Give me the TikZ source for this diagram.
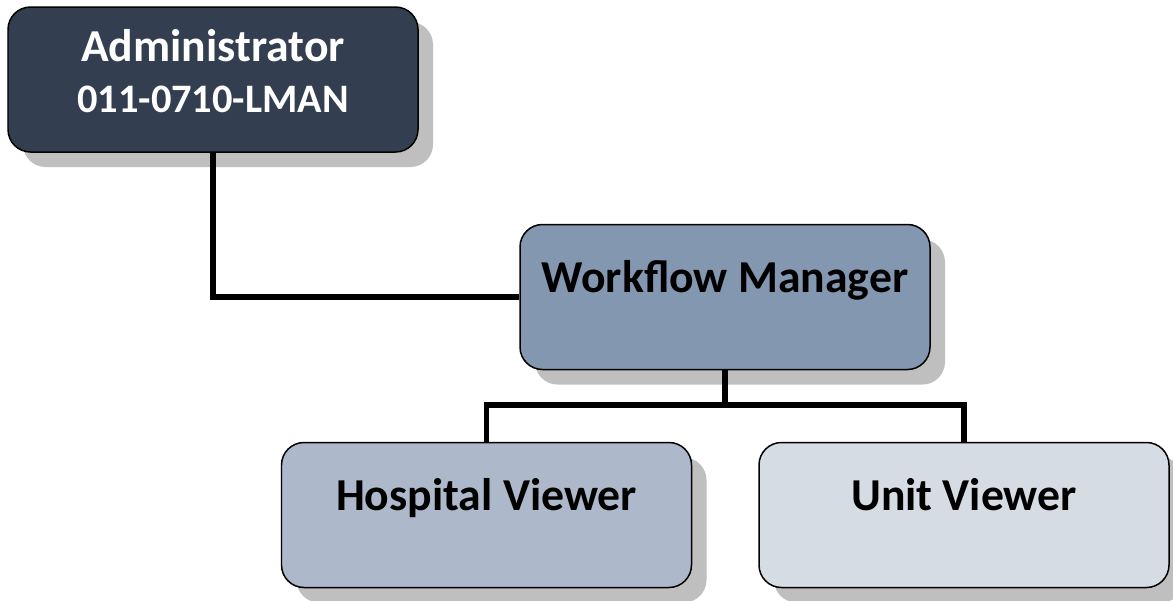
\documentclass[tikz,border=0pt]{standalone}
\usepackage{fontspec}
\setmainfont{Carlito}
\usetikzlibrary{shadows}
\definecolor{admfill}{HTML}{333F50}
\definecolor{wffill}{HTML}{8497B0}
\definecolor{hospfill}{HTML}{ADB9CA}
\definecolor{unitfill}{HTML}{D6DCE4}
\definecolor{shadowgray}{HTML}{BFBFBF}
\tikzset{
  orgbox/.style={draw=black, line width=0.85pt, rounded corners=0.45cm,
    minimum width=8.2cm, minimum height=2.9cm, inner sep=0pt,
    drop shadow={shadow xshift=0.3cm, shadow yshift=-0.3cm, fill=shadowgray, opacity=1}},
  boxtext/.style={font=\fontsize{26}{29}\selectfont\bfseries, align=center, inner sep=0pt},
  conn/.style={draw=black, line width=3.3pt}
}
\begin{document}
\begin{tikzpicture}
\useasboundingbox (0,0) rectangle (23.46,-12);
\node[orgbox, fill=admfill] (admin) at (4.26,-1.59) {};
\node[orgbox, fill=wffill] (wf) at (14.5,-5.94) {};
\node[orgbox, fill=hospfill] (hosp) at (9.73,-10.3) {};
\node[orgbox, fill=unitfill] (unit) at (19.28,-10.3) {};
\node[boxtext, text=white] (admintext) at (4.26,-1.42) {Administrator\\{\fontsize{23}{29}\selectfont 011-0710-LMAN}};
\node[boxtext, anchor=base] (wftext) at (14.5,-5.84) {Workflow Manager};
\node[boxtext, anchor=base] (hosptext) at (9.73,-10.2) {Hospital Viewer};
\node[boxtext, anchor=base] (unittext) at (19.28,-10.2) {Unit Viewer};
\draw[conn] (admin.south) |- (wf.west);
\draw[conn] (wf.south) -- ++(0,-0.74);
\draw[conn] (hosp.north) -- ++(0,0.74) -| (unit.north);
\end{tikzpicture}
\end{document}
